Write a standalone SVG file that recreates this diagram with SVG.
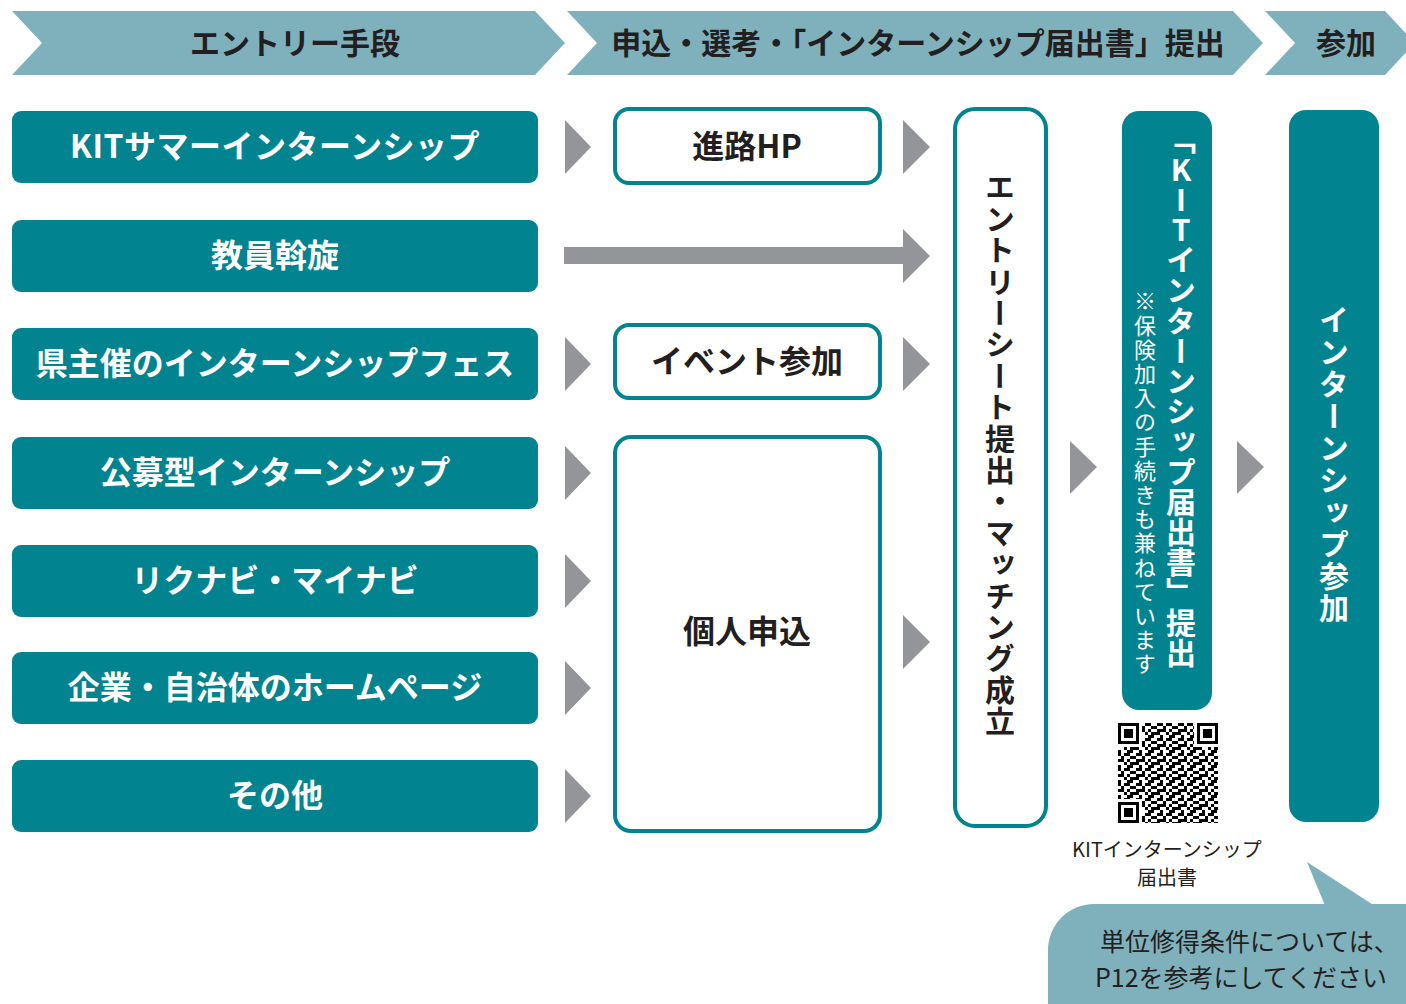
<svg xmlns="http://www.w3.org/2000/svg" width="1406" height="1004" viewBox="0 0 1406 1004">
<style>
.hdr{fill:#7fb1bd}
.hdrt{font-family:"Noto Sans CJK JP","Noto Sans",sans-serif;font-weight:700;font-size:30px;fill:#231f20;text-anchor:middle}
.src{fill:#028490}
.srct{font-family:"Noto Sans CJK JP","Noto Sans",sans-serif;font-weight:700;font-size:32px;fill:#fff;text-anchor:middle}
.box{fill:#fff;stroke:#028490;stroke-width:4}
.boxt{font-family:"Noto Sans CJK JP","Noto Sans",sans-serif;font-weight:700;font-size:32px;fill:#231f20;text-anchor:middle}
.tri{fill:#939598}
.vt{font-family:"Noto Sans CJK JP","Noto Sans",sans-serif;writing-mode:vertical-rl;text-orientation:upright}
.cap{font-family:"Noto Sans CJK JP","Noto Sans",sans-serif;font-size:20px;fill:#231f20;text-anchor:middle}
.note{font-family:"Noto Sans CJK JP","Noto Sans",sans-serif;font-size:25px;fill:#231f20}
</style>
<defs>
<pattern id="qrdata" x="1118" y="723" width="21" height="15" patternUnits="userSpaceOnUse">
<path d="M0 0h3v3h-3zM6 0h6v3h-6zM18 0h3v3h-3zM3 3h3v3h-3zM12 3h6v3h-6zM0 6h6v3h-6zM9 6h3v3h-3zM18 6h3v3h-3zM6 9h3v3h-3zM12 9h9v3h-9zM0 12h3v3h-3zM9 12h6v3h-6z" fill="#000"/>
</pattern>
</defs>

<g id="header">
<g id="h1"><polygon class="hdr" points="12,11 535,11 565,43 535,75 12,75 42,43"/><text class="hdrt" x="295" y="54">エントリー手段</text></g>
<g id="h2"><polygon class="hdr" points="567,11 1233,11 1263,43 1233,75 567,75 597,43"/><text class="hdrt" x="918" y="54">申込・選考・「インターンシップ届出書」提出</text></g>
<g id="h3"><polygon class="hdr" points="1265,11 1385,11 1415,43 1385,75 1265,75 1295,43"/><text class="hdrt" x="1346" y="54">参加</text></g>
</g>

<g id="sources">
<g id="s1"><rect class="src" x="12" y="111" width="526" height="72" rx="9"/><text class="srct" x="275" y="158" font-weight="500" letter-spacing="0.5">KITサマーインターンシップ</text></g>
<g id="s2"><rect class="src" x="12" y="220" width="526" height="72" rx="9"/><text class="srct" x="275" y="267">教員斡旋</text></g>
<g id="s3"><rect class="src" x="12" y="328" width="526" height="72" rx="9"/><text class="srct" x="275" y="375">県主催のインターンシップフェス</text></g>
<g id="s4"><rect class="src" x="12" y="437" width="526" height="72" rx="9"/><text class="srct" x="275" y="484">公募型インターンシップ</text></g>
<g id="s5"><rect class="src" x="12" y="545" width="526" height="72" rx="9"/><text class="srct" x="275" y="592">リクナビ・マイナビ</text></g>
<g id="s6"><rect class="src" x="12" y="652" width="526" height="72" rx="9"/><text class="srct" x="275" y="699">企業・自治体のホームページ</text></g>
<g id="s7"><rect class="src" x="12" y="760" width="526" height="72" rx="9"/><text class="srct" x="275" y="807">その他</text></g>
</g>

<g id="channels">
<g id="c1"><rect class="box" x="615" y="109" width="265" height="74" rx="14"/><text class="boxt" x="747" y="158" font-size="33">進路HP</text></g>
<g id="c2"><rect class="box" x="615" y="325" width="265" height="73" rx="14"/><text class="boxt" x="747" y="373">イベント参加</text></g>
<g id="c3"><rect class="box" x="615" y="437" width="265" height="394" rx="16"/><text class="boxt" x="747" y="643">個人申込</text></g>
</g>

<g id="entry"><rect class="box" x="955" y="109" width="91" height="717" rx="20"/><text class="vt" x="1000" y="172" font-size="30" font-weight="700" fill="#231f20" letter-spacing="1.4">エントリーシート提出・マッチング成立</text></g>

<g id="kitform"><rect class="src" x="1122" y="111" width="90" height="599" rx="17"/><text class="vt" x="1181" y="124" font-size="30" font-weight="700" fill="#fff" letter-spacing="0.2">「KITインターンシップ届出書」提出</text><text class="vt" x="1145" y="290" font-size="22" fill="#fff" letter-spacing="2.2">※保険加入の手続きも兼ねています</text></g>

<g id="participate"><rect class="src" x="1289" y="110" width="90" height="712" rx="17"/><text class="vt" x="1334" y="305" font-size="30" font-weight="700" fill="#fff" letter-spacing="2">インターンシップ参加</text></g>

<g id="qr">
<rect x="1118" y="723" width="100" height="100" fill="#fff"/>
<rect x="1118" y="723" width="100" height="100" fill="url(#qrdata)"/>
<rect x="1118" y="723" width="24" height="24" fill="#fff"/>
<rect x="1194" y="723" width="24" height="24" fill="#fff"/>
<rect x="1118" y="799" width="24" height="24" fill="#fff"/>
<path fill="#000" fill-rule="evenodd" d="M1118 723h21v21h-21zM1121 726v15h15v-15zM1124 729h9v9h-9zM1197 723h21v21h-21zM1200 726v15h15v-15zM1203 729h9v9h-9zM1118 802h21v21h-21zM1121 805v15h15v-15zM1124 808h9v9h-9z"/>
<text class="cap" x="1167" y="857">KITインターンシップ</text>
<text class="cap" x="1167" y="885">届出書</text>
</g>

<g id="note">
<polygon fill="#7fb1bd" points="1307,862 1326,908 1378,908"/>
<rect x="1048" y="904" width="420" height="160" rx="46" fill="#7fb1bd"/>
<text class="note" x="1100" y="951">単位修得条件については、</text>
<text class="note" x="1095" y="987">P12を参考にしてください</text>
</g>

<g id="connectors">
<polygon class="tri" points="565,120 591,147 565,174"/>
<polygon class="tri" points="565,337 591,364 565,391"/>
<polygon class="tri" points="565,446 591,473 565,500"/>
<polygon class="tri" points="565,554 591,581 565,608"/>
<polygon class="tri" points="565,661 591,688 565,715"/>
<polygon class="tri" points="565,769 591,796 565,823"/>
<polygon class="tri" points="564,247 903,247 903,229 930,256 903,283 903,264 564,264"/>
<polygon class="tri" points="903,120 930,147 903,174"/>
<polygon class="tri" points="903,337 930,364 903,391"/>
<polygon class="tri" points="903,615 930,642 903,669"/>
<polygon class="tri" points="1070,441 1097,467 1070,494"/>
<polygon class="tri" points="1237,441 1264,467 1237,494"/>
</g>
</svg>
